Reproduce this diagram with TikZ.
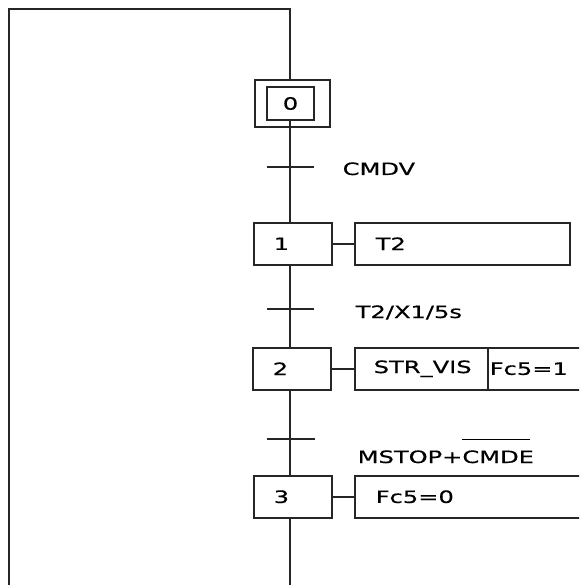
\documentclass[tikz,border=0pt]{standalone}
\usepackage{fontspec}
\setmainfont{DejaVu Sans}[FakeStretch=1.42, FakeBold=0.6]
\newcommand\ovl[1]{\setbox0\hbox{#1}\rlap{\rule[\dimexpr\ht0+10pt\relax]{\dimexpr\wd0-4pt\relax}{1.2pt}}\box0}
\begin{document}
\begin{tikzpicture}[x=1pt,y=-1pt,line width=1.5pt,
  every node/.style={font=\fontsize{17}{20}\selectfont, text=black},
  box/.style={draw=black!85, line width=1.5pt},
  stepbox/.style={box, minimum height=42pt, text width=38pt, inner xsep=20pt, inner ysep=0pt, align=left, anchor=north west},
  actbox/.style={box, minimum height=42pt, inner ysep=0pt, align=left, anchor=north west},
  wire/.style={draw=black!85, line width=1.5pt},
  tlabel/.style={anchor=base west, inner sep=0pt}]
\useasboundingbox (0,0) rectangle (579,585);
\clip (0,0) rectangle (579,585);
% initial step
\node[box, minimum width=75pt, minimum height=47pt, inner sep=0pt] (s0o) at (292.5,103.5) {};
\node[box, minimum width=47pt, minimum height=33pt, inner sep=0pt] (s0) at (290.5,103.5) {0};
% steps
\node[stepbox] (s1) at (253,222) {1};
\node[stepbox] (s2) at (252,347) {2};
\node[stepbox] (s3) at (253,475) {3};
% actions
\node[actbox, text width=173pt, inner xsep=21pt] (a1) at (354,222) {T2};
\node[actbox, text width=95pt, inner xsep=19pt] (a2) at (354,347) {STR\_VIS};
\node[actbox, text width=110pt, inner xsep=2pt] (a2b) at (487,347) {Fc5=1};
\node[actbox, text width=205pt, inner xsep=21pt] (a3) at (354,475) {Fc5=0};
% spine coordinates
\coordinate (top) at (290,9);
\coordinate (tl) at (9,9);
\coordinate (bl) at (9,590);
\coordinate (bot) at (290,590);
\coordinate (t1) at (290,167);
\coordinate (t2) at (290,309);
\coordinate (t3) at (290,439);
% loop
\draw[wire] (s0o.north -| top) -- (top) -- (tl) -- (bl);
\draw[wire] (s0.south -| top) -- (s1.north -| top);
\draw[wire] (s1.south -| top) -- (s2.north -| top);
\draw[wire] (s2.south -| top) -- (s3.north -| top);
\draw[wire] (s3.south -| top) -- (bot);
% transitions
\draw[wire] (t1) ++(-23,0) -- ++(47,0);
\draw[wire] (t2) ++(-23,0) -- ++(47,0);
\draw[wire] (t3) ++(-23,0) -- ++(48,0);
% links
\draw[wire] (s1.east) -- (a1.west);
\draw[wire] (s2.east) -- (a2.west);
\draw[wire] (s3.east) -- (a3.west);
% transition labels
\node[tlabel] (c1) at (342,175) {CMDV};
\node[tlabel] (c2) at (355,318) {T2/X1/5s};
\node[tlabel] (c3) at (357,463) {MSTOP+\ovl{CMDE}};
\end{tikzpicture}
\end{document}
